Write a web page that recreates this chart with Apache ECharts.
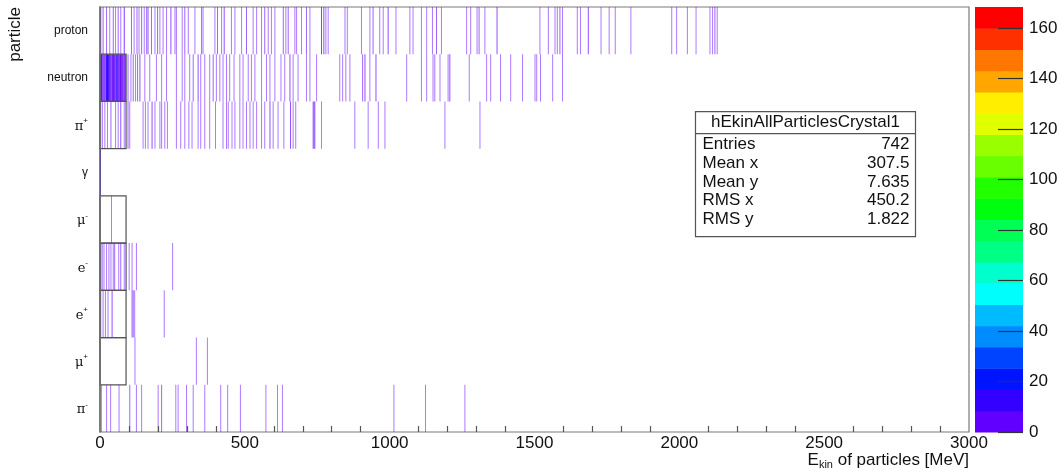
<!DOCTYPE html>
<html>
<head>
<meta charset="utf-8">
<script src="https://cdn.jsdelivr.net/npm/echarts@6/dist/echarts.min.js"></script>
<style>
  html, body { margin: 0; padding: 0; background: #fff; }
  #chart { width: 1060px; height: 473px; }
</style>
</head>
<body>
<div id="chart"></div>
<script>
// Particle rows, bottom to top
const particles = ['π-', 'μ+', 'e+', 'e-', 'μ-', 'γ', 'π+', 'neutron', 'proton'];

// Filled bins per particle: [E_kin lower edge (MeV), entries]
const protonBins = [[1,3],[9,2],[21,2],[32,1],[44,2],[52,1],[61,2],[70,1],[82,4],[107,2],[116,1],[126,2],[133,1],[142,2],[151,1],[159,1],[164,3],[176,2],[188,1],[197,2],[205,1],[216,1],[228,1],[243,3],[257,1],[262,1],[282,1],[291,2],[303,1],[326,1],[349,2],[354,1],[395,1],[404,2],[418,1],[427,3],[452,1],[464,1],[487,1],[504,2],[527,1],[539,1],[556,1],[567,2],[579,1],[590,1],[602,1],[631,2],[640,1],[648,2],[671,1],[677,1],[694,1],[711,2],[723,1],[763,4],[771,3],[778,1],[786,1],[844,1],[852,1],[901,1],[930,1],[941,2],[964,1],[976,1],[993,3],[1020,1],[1068,1],[1079,1],[1108,1],[1126,1],[1146,1],[1160,2],[1177,1],[1264,1],[1278,1],[1300,1],[1307,2],[1327,1],[1369,3],[1517,1],[1546,1],[1569,1],[1577,1],[1586,2],[1595,1],[1646,1],[1657,1],[1684,3],[1728,1],[1756,1],[1777,1],[1831,1],[1972,1],[1989,1],[2026,1],[2056,1],[2104,1],[2113,1],[2121,2],[2129,1]];
const neutronBins = [[0,12],[3,10],[6,5],[9,3],[12,6],[15,4],[18,3],[21,9],[24,12],[27,14],[30,11],[33,7],[36,5],[39,4],[42,8],[45,6],[48,5],[51,3],[54,10],[57,13],[60,9],[63,5],[66,4],[69,6],[72,5],[75,7],[78,3],[81,5],[84,6],[87,4],[95,2],[105,1],[113,2],[121,1],[128,2],[136,3],[153,1],[170,1],[193,1],[211,1],[228,1],[262,1],[282,1],[291,1],[308,1],[320,2],[337,3],[346,1],[360,1],[377,1],[389,2],[400,1],[412,1],[423,1],[435,1],[446,1],[461,1],[481,1],[492,1],[510,1],[521,1],[533,1],[556,1],[573,1],[585,1],[602,1],[623,1],[636,1],[654,3],[665,1],[682,1],[711,1],[723,1],[746,1],[826,1],[836,1],[847,1],[861,1],[905,2],[913,3],[930,1],[951,3],[1057,1],[1108,1],[1126,1],[1148,1],[1154,1],[1172,1],[1200,1],[1206,3],[1273,1],[1333,1],[1347,1],[1381,1],[1416,1],[1457,1],[1500,1],[1506,1],[1519,1],[1561,1],[1595,1]];
const piPlusBins = [[6,2],[15,1],[24,1],[36,2],[52,1],[61,1],[70,3],[82,1],[95,2],[101,1],[147,1],[155,1],[164,1],[178,3],[188,1],[205,1],[211,1],[222,1],[231,1],[262,1],[277,1],[291,1],[305,1],[316,1],[337,1],[346,1],[360,1],[377,1],[397,1],[423,1],[435,1],[441,1],[454,1],[464,1],[481,1],[492,1],[504,1],[516,1],[527,1],[539,1],[556,1],[567,1],[585,3],[596,1],[613,1],[633,1],[656,3],[665,1],[674,1],[734,2],[737,2],[740,2],[763,1],[878,1],[924,1],[959,1],[982,1],[1189,1],[1310,1]];
const gammaBins = [[0,14]];
const muMinusBins = [[38,1]];
const eMinusBins = [[1,4],[6,1],[12,1],[21,1],[29,1],[36,1],[44,1],[49,2],[63,1],[70,2],[82,1],[99,1],[109,1],[124,1],[249,1]];
const ePlusBins = [[1,1],[9,1],[17,1],[26,1],[40,3],[109,2],[113,2],[118,1],[220,1]];
const muPlusBins = [[119,1],[331,1],[369,1]];
const piMinusBins = [[3,1],[21,1],[35,1],[64,1],[101,2],[124,1],[142,1],[199,1],[211,2],[260,1],[268,1],[297,1],[320,1],[360,1],[415,1],[439,1],[483,1],[571,1],[611,1],[628,1],[1013,1],[1122,1],[1258,1]];

// Rows whose first wide cell (0-90 MeV) is drawn as an outline
const outlinedRows = ['neutron', 'π+', 'μ-', 'e-', 'e+', 'μ+'];
const outlinedRange = [0, 90];

// Axis ticks
const xTicks = [0, 500, 1000, 1500, 2000, 2500, 3000];
const zTicks = [0, 20, 40, 60, 80, 100, 120, 140, 160];

// Statistics box
const statsTitle = 'hEkinAllParticlesCrystal1';
const statsNames = ['Entries', 'Mean x', 'Mean y', 'RMS x', 'RMS y'];
const statsValues = ['742', '307.5', '7.635', '450.2', '1.822'];

const binWidth = 3;       // MeV
const zMax = 168.4;       // top of the colour scale
const nContours = 20;

// Violet -> red spectrum, one colour per contour level
const palette = ['#6200ff','#3300ff','#0014ff','#0044ff','#008bff','#00bbff','#00fffc','#00ffcc','#00ff85','#00ff55',
                 '#00ff0e','#22ff00','#69ff00','#99ff00','#e0ff00','#ffee00','#ffa700','#ff7700','#ff3000','#ff0000'];

const FONT = '"Liberation Sans", Arial, Helvetica, sans-serif';
const contourStep = zMax / nContours;
function contourColor(v) {
  return palette[Math.min(nContours - 1, Math.floor(v / contourStep))];
}
// thin single-entry bins read paler than well-filled ones
function binOpacity(v) {
  return Math.min(1, 0.45 + 0.08 * v);
}

const rowBins = {
  'proton': protonBins, 'neutron': neutronBins, 'π+': piPlusBins, 'γ': gammaBins, 'μ-': muMinusBins,
  'e-': eMinusBins, 'e+': ePlusBins, 'μ+': muPlusBins, 'π-': piMinusBins
};

const binData = [];
particles.forEach((name, row) => {
  rowBins[name].forEach(([e, n]) => binData.push([e, e + binWidth, row, n]));
});
const boxData = outlinedRows.map(name => [outlinedRange[0], outlinedRange[1], particles.indexOf(name)]);
const colorbarData = palette.map((c, k) => [k * contourStep, (k + 1) * contourStep, k]);

function particleLabel(name) {
  const m = name.match(/^(.+?)([+-])$/);
  if (!m) return '{n|' + name + '}';
  return '{g|' + m[1] + '}{s|' + m[2] + '}';
}

const chart = echarts.init(document.getElementById('chart'), null, { renderer: 'canvas' });

chart.setOption({
  animation: false,
  backgroundColor: '#ffffff',
  textStyle: { fontFamily: FONT },
  grid: [
    { left: 100, right: 91, top: 7, bottom: 41, outerBoundsMode: 'none', containLabel: false,
      show: true, borderColor: '#7a7a7a', borderWidth: 1.2, backgroundColor: 'transparent' },
    { left: 975, right: 37, top: 7, bottom: 41, outerBoundsMode: 'none', containLabel: false }
  ],
  xAxis: [
    {
      gridIndex: 0, type: 'value', min: xTicks[0], max: xTicks[xTicks.length - 1], interval: 500, z: 5,
      axisLine: { lineStyle: { color: '#6e6e6e', width: 1.5 } },
      axisTick: { inside: true, length: 12, lineStyle: { color: '#555', width: 1.2 } },
      minorTick: { show: true, splitNumber: 5, length: 6, lineStyle: { color: '#555', width: 1.2 } },
      splitLine: { show: false },
      axisLabel: { fontSize: 17, color: '#111', margin: 3, fontFamily: FONT, formatter: v => String(v) }
    },
    { gridIndex: 1, type: 'value', min: 0, max: 1, show: false }
  ],
  yAxis: [
    {
      gridIndex: 0, type: 'category', data: particles, z: 5,
      axisLine: { lineStyle: { color: '#6e6e6e', width: 1.5 } },
      axisTick: { show: false },
      splitLine: { show: false },
      axisLabel: {
        margin: 12, color: '#111', fontFamily: FONT,
        formatter: particleLabel,
        rich: {
          n: { fontSize: 12, color: '#111', fontFamily: FONT },
          g: { fontSize: 13, color: '#111', fontFamily: '"DejaVu Serif", serif', lineHeight: 16, verticalAlign: 'bottom' },
          s: { fontSize: 8, color: '#111', fontFamily: FONT, lineHeight: 8, verticalAlign: 'top' }
        }
      }
    },
    {
      gridIndex: 1, type: 'value', min: 0, max: zMax, position: 'right', z: 5,
      axisLine: { show: false, onZero: false },
      axisTick: { show: true, inside: true, length: 25, customValues: zTicks, lineStyle: { color: '#333', width: 1.2 } },
      axisLabel: { show: true, customValues: zTicks, fontSize: 17, color: '#111', margin: 6, fontFamily: FONT },
      splitLine: { show: false }
    }
  ],
  series: [
    {
      type: 'custom', name: 'bins', xAxisIndex: 0, yAxisIndex: 0, z: 2,
      data: binData,
      encode: { x: [0, 1], y: 2 },
      renderItem(params, api) {
        const p0 = api.coord([api.value(0), api.value(2)]);
        const p1 = api.coord([api.value(1), api.value(2)]);
        const h = api.size([0, 1])[1];
        const n = api.value(3);
        return {
          type: 'rect',
          shape: { x: p0[0], y: p0[1] - h / 2, width: Math.max(p1[0] - p0[0], 1), height: h },
          style: { fill: contourColor(n), opacity: binOpacity(n) }
        };
      }
    },
    {
      type: 'custom', name: 'outlines', xAxisIndex: 0, yAxisIndex: 0, z: 3,
      data: boxData,
      encode: { x: [0, 1], y: 2 },
      renderItem(params, api) {
        const p0 = api.coord([api.value(0), api.value(2)]);
        const p1 = api.coord([api.value(1), api.value(2)]);
        const h = api.size([0, 1])[1];
        return {
          type: 'rect',
          shape: { x: p0[0], y: p0[1] - h / 2, width: p1[0] - p0[0], height: h },
          style: { fill: null, stroke: '#555', lineWidth: 1.2 }
        };
      }
    },
    {
      type: 'custom', name: 'colour scale', xAxisIndex: 1, yAxisIndex: 1, z: 2,
      data: colorbarData,
      encode: { y: [0, 1] },
      renderItem(params, api) {
        const lo = api.coord([0, api.value(0)]);
        const hi = api.coord([1, api.value(1)]);
        return {
          type: 'rect',
          shape: { x: lo[0], y: hi[1], width: hi[0] - lo[0], height: lo[1] - hi[1] + 0.5 },
          style: { fill: palette[api.value(2)] }
        };
      }
    }
  ],
  graphic: [
    {
      type: 'text', x: 15, y: 7, rotation: Math.PI / 2,
      style: { text: 'particle', font: '17px ' + FONT, fill: '#111', align: 'right', verticalAlign: 'middle' }
    },
    {
      type: 'text', x: 969, y: 452,
      style: {
        text: '{e|E}{k|kin}{t| of particles [MeV]}', align: 'right', verticalAlign: 'top',
        rich: {
          e: { fontSize: 17, fill: '#111', fontFamily: FONT, lineHeight: 18, verticalAlign: 'top' },
          k: { fontSize: 11, fill: '#111', fontFamily: FONT, lineHeight: 12, verticalAlign: 'bottom', padding: [10, 0, 0, 0] },
          t: { fontSize: 17, fill: '#111', fontFamily: FONT, lineHeight: 18, verticalAlign: 'top' }
        }
      }
    },
    {
      type: 'group', left: 693, top: 111,
      children: [
        { type: 'rect', shape: { x: 0, y: 0, width: 220, height: 125 }, style: { fill: '#fff', stroke: '#555', lineWidth: 1.2 } },
        { type: 'line', shape: { x1: 0, y1: 22, x2: 220, y2: 22 }, style: { stroke: '#555', lineWidth: 1.2 } },
        { type: 'text', x: 110, y: 11, style: { text: statsTitle, font: '17px ' + FONT, fill: '#111', align: 'center', verticalAlign: 'middle' } }
      ].concat(statsNames.map((s, i) => ({
        type: 'text', x: 7, y: 33 + i * 18.7,
        style: { text: s, font: '17px ' + FONT, fill: '#111', align: 'left', verticalAlign: 'middle' }
      }))).concat(statsValues.map((s, i) => ({
        type: 'text', x: 214, y: 33 + i * 18.7,
        style: { text: s, font: '17px ' + FONT, fill: '#111', align: 'right', verticalAlign: 'middle' }
      })))
    }
  ]
});
</script>
</body>
</html>
